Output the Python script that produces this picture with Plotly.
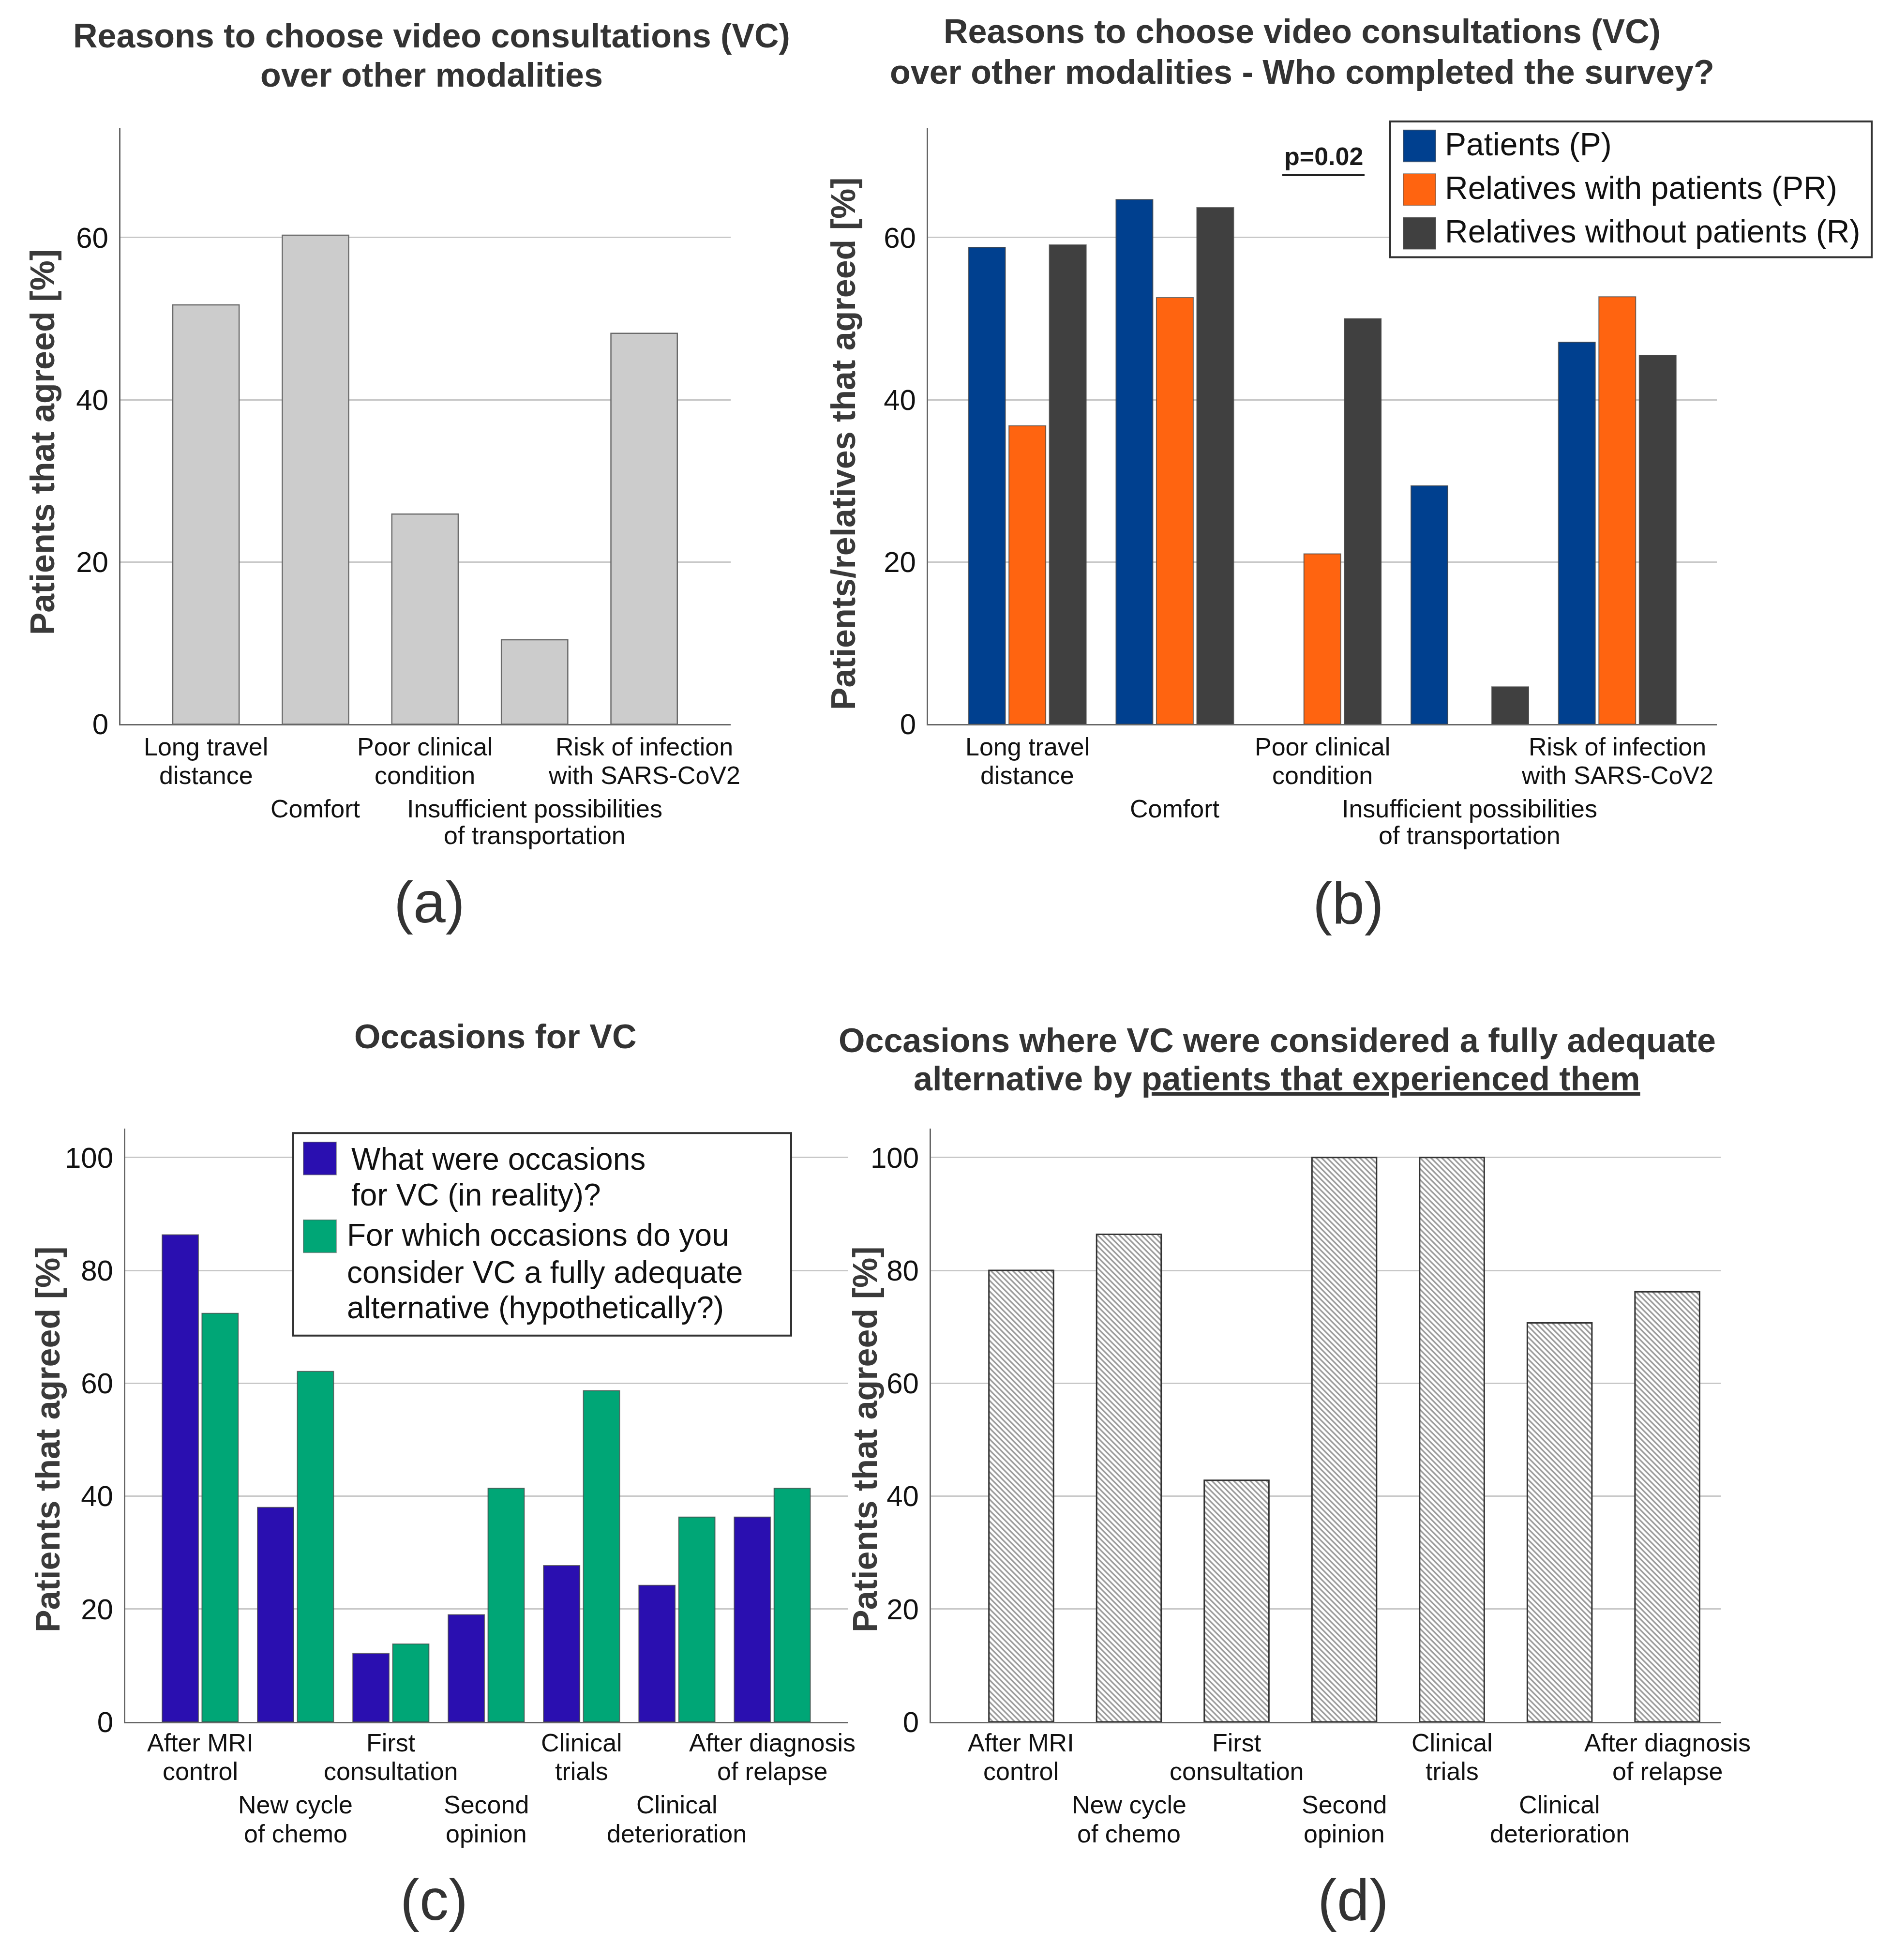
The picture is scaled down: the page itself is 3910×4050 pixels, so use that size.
import plotly.graph_objects as go

W, H = 3910, 4050
FONT = "Liberation Sans"


def px_x(p):
    return p / W


def px_y(p):
    return 1 - p / H


# ---------------- data ----------------
reasons = ["Long travel distance", "Comfort", "Poor clinical condition",
           "Insufficient possibilities of transportation", "Risk of infection with SARS-CoV2"]
reason_label_lines = [["Long travel", "distance"], ["Comfort"], ["Poor clinical", "condition"],
                      ["Insufficient possibilities", "of transportation"],
                      ["Risk of infection", "with SARS-CoV2"]]
reason_label_row = [0, 2, 0, 2, 0]

all_agreed = [51.7, 60.3, 25.9, 10.4, 48.2]

group_names = ["Patients (P)", "Relatives with patients (PR)", "Relatives without patients (R)"]
group_colors = ["#00408f", "#ff6410", "#404040"]
patients_P = [58.8, 64.7, None, 29.4, 47.1]
relatives_PR = [36.8, 52.6, 21.0, None, 52.7]
relatives_R = [59.1, 63.7, 50.0, 4.6, 45.5]

occasions = ["After MRI control", "New cycle of chemo", "First consultation", "Second opinion",
             "Clinical trials", "Clinical deterioration", "After diagnosis of relapse"]
occasion_label_lines = [["After MRI", "control"], ["New cycle", "of chemo"], ["First", "consultation"],
                        ["Second", "opinion"], ["Clinical", "trials"], ["Clinical", "deterioration"],
                        ["After diagnosis", "of relapse"]]
occasion_label_row = [0, 2, 0, 2, 0, 2, 0]

occ_names = [["What were occasions", "for VC (in reality)?"],
             ["For which occasions do you", "consider VC a fully adequate",
              "alternative (hypothetically?)"]]
occ_colors = ["#2a0fb0", "#00a676"]
occ_reality = [86.3, 38.0, 12.1, 19.0, 27.7, 24.2, 36.3]
occ_hypothetical = [72.4, 62.1, 13.8, 41.4, 58.7, 36.3, 41.4]
occ_experienced = [80.0, 86.4, 42.8, 100, 100, 70.7, 76.2]

ticks_top = [0, 20, 40, 60]
ticks_bottom = [0, 20, 40, 60, 80, 100]

titles = {
    "a": ["Reasons to choose video consultations (VC)", "over other modalities"],
    "b": ["Reasons to choose video consultations (VC)",
          "over other modalities - Who completed the survey?"],
    "c": ["Occasions for VC"],
    "d": ["Occasions where VC were considered a fully adequate",
          "alternative by <u>patients that experienced them</u>"],
}
ytitles = {"a": "Patients that agreed [%]", "b": "Patients/relatives that agreed [%]",
           "c": "Patients that agreed [%]", "d": "Patients that agreed [%]"}
panel_letters = ["(a)", "(b)", "(c)", "(d)"]
p_value_text = "p=0.02"

# ---------------- traces ----------------
fig = go.Figure()
edge = dict(color="rgba(70,70,70,0.75)", width=2)

fig.add_trace(go.Bar(x=reasons, y=all_agreed, width=0.606, offset=-0.303,
                     marker=dict(color="#cccccc", line=dict(color="#6a6a6a", width=2.5)),
                     xaxis="x", yaxis="y", showlegend=False))

b_w = 0.2495
b_centers = [-0.274, 0.0, 0.274]
for vals, name, col, c in zip([patients_P, relatives_PR, relatives_R], group_names, group_colors, b_centers):
    fig.add_trace(go.Bar(x=reasons, y=vals, name=name, width=b_w, offset=c - b_w / 2,
                         marker=dict(color=col, line=edge), xaxis="x2", yaxis="y2", showlegend=False))

c_w = 0.38
c_centers = [-0.209, 0.209]
for vals, col, c in zip([occ_reality, occ_hypothetical], occ_colors, c_centers):
    fig.add_trace(go.Bar(x=occasions, y=vals, width=c_w, offset=c - c_w / 2,
                         marker=dict(color=col, line=edge), xaxis="x3", yaxis="y3", showlegend=False))

fig.add_trace(go.Bar(x=occasions, y=occ_experienced, width=0.6, offset=-0.3,
                     marker=dict(color="white", line=dict(color="#333333", width=3),
                                 pattern=dict(shape="\\", fgcolor="#333333", bgcolor="white",
                                              size=8, solidity=0.4)),
                     xaxis="x4", yaxis="y4", showlegend=False))


# ---------------- axes ----------------
def xax(x0, x1, rng, anchor):
    return dict(domain=[px_x(x0), px_x(x1)], range=rng, showline=True, linecolor="#666666",
                linewidth=3, showgrid=False, showticklabels=False, ticks="", zeroline=False,
                anchor=anchor, type="category")


def yax(top, bottom, rng, tv, anchor):
    return dict(domain=[px_y(bottom), px_y(top)], range=rng, tickvals=tv, showline=True,
                linecolor="#666666", linewidth=3, showgrid=True, gridcolor="#c8c8c8", gridwidth=3,
                ticks="", ticklabelstandoff=10, zeroline=False, anchor=anchor,
                tickfont=dict(family=FONT, size=60, color="#111111"))


TOP_T, TOP_B = 258, 1501
BOT_T, BOT_B = 2344, 3580
fig.update_layout(
    xaxis=xax(241, 1502, [-0.78, 4.79], "y"),
    yaxis=yax(TOP_T, TOP_B, [0, 73.55], ticks_top, "x"),
    xaxis2=xax(1910, 3540, [-0.673, 4.675], "y2"),
    yaxis2=yax(TOP_T, TOP_B, [0, 73.55], ticks_top, "x2"),
    xaxis3=xax(251, 1745, [-0.785, 6.797], "y3"),
    yaxis3=yax(BOT_T, BOT_B, [0, 105.1], ticks_bottom, "x3"),
    xaxis4=xax(1916, 3548, [-0.838, 6.496], "y4"),
    yaxis4=yax(BOT_T, BOT_B, [0, 105.1], ticks_bottom, "x4"),
)

ann = []
shapes = []


def text(t, x, y, size, color="#1a1a1a", bold=False, xref="paper", xanchor="center", angle=0):
    ann.append(dict(text=t, x=x, y=y, xref=xref, yref="paper", xanchor=xanchor, yanchor="middle",
                    showarrow=False, textangle=angle,
                    font=dict(family=FONT, size=size, color=color, weight="bold" if bold else "normal")))


# category labels (staggered, as in the original)
def cat_labels(lines_list, rows, xref, row_px):
    for i, (lines, r) in enumerate(zip(lines_list, rows)):
        for j, ln in enumerate(lines):
            text(ln, i, px_y(row_px[r + j]), 52, "#111111", xref=xref)


top_rows = [1548, 1607, 1677, 1733]
bot_rows = [3623, 3683, 3753, 3813]
cat_labels(reason_label_lines, reason_label_row, "x", top_rows)
cat_labels(reason_label_lines, reason_label_row, "x2", top_rows)
cat_labels(occasion_label_lines, occasion_label_row, "x3", bot_rows)
cat_labels(occasion_label_lines, occasion_label_row, "x4", bot_rows)

# titles
title_pos = {"a": (884, [67, 148]), "b": (2683, [57, 142]), "c": (1016, [2152]), "d": (2631, [2160, 2240])}
for k, (cx, ys) in title_pos.items():
    for ln, yp in zip(titles[k], ys):
        text(ln, px_x(cx), px_y(yp), 70, "#333333", bold=True)

# y-axis titles
ytitle_pos = {"a": (80, 914), "b": (1735, 917), "c": (91, 2992), "d": (1780, 2992)}
for k, (xp, yp) in ytitle_pos.items():
    text(ytitles[k], px_x(xp), px_y(yp), 70, "#3a3a3a", bold=True, angle=-90)

# panel letters
for lt, (xp, yp) in zip(panel_letters, [(879, 1872), (2778, 1874), (889, 3950), (2788, 3950)]):
    text(lt, px_x(xp), px_y(yp), 120, "#333333")

# p-value
text(p_value_text, px_x(2727), px_y(318), 52, "#1a1a1a", bold=True)
shapes.append(dict(type="line", xref="paper", yref="paper", x0=px_x(2642), x1=px_x(2812),
                   y0=px_y(357), y1=px_y(357), line=dict(color="#222222", width=4)))

# legend (b)
shapes.append(dict(type="rect", xref="paper", yref="paper", x0=px_x(2865), x1=px_x(3860),
                   y0=px_y(528), y1=px_y(245), line=dict(color="#333333", width=4),
                   fillcolor="white"))
for name, col, yc in zip(group_names, group_colors, [296, 387, 478]):
    shapes.append(dict(type="rect", xref="paper", yref="paper", x0=px_x(2892), x1=px_x(2959),
                       y0=px_y(yc + 33), y1=px_y(yc - 33), line=dict(color="rgba(80,80,80,0.5)", width=2),
                       fillcolor=col))
    text(name, px_x(2976), px_y(yc - 4), 66, "#111111", xanchor="left")

# legend (c)
shapes.append(dict(type="rect", xref="paper", yref="paper", x0=px_x(598), x1=px_x(1627),
                   y0=px_y(2775), y1=px_y(2353), line=dict(color="#333333", width=4),
                   fillcolor="white"))
leg_c_lines_y = [[2407, 2482], [2566, 2643, 2717]]
leg_c_swatch_y = [2406, 2568]
leg_c_text_x = [716, 707]
for lines, col, ys, sy, tx in zip(occ_names, occ_colors, leg_c_lines_y, leg_c_swatch_y, leg_c_text_x):
    shapes.append(dict(type="rect", xref="paper", yref="paper", x0=px_x(619), x1=px_x(687),
                       y0=px_y(sy + 34), y1=px_y(sy - 34), line=dict(color="rgba(80,80,80,0.5)", width=2),
                       fillcolor=col))
    for ln, yp in zip(lines, ys):
        text(ln, px_x(tx), px_y(yp), 64, "#111111", xanchor="left")

fig.update_layout(
    width=W, height=H, margin=dict(l=0, r=0, t=0, b=0),
    paper_bgcolor="white", plot_bgcolor="white",
    barmode="overlay", showlegend=False,
    annotations=ann, shapes=shapes,
    font=dict(family=FONT),
)

fig.write_html("out.html")
